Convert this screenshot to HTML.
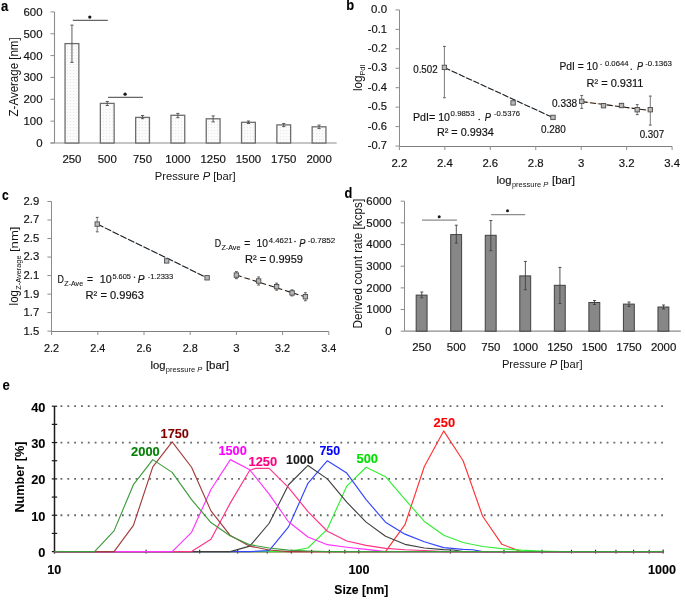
<!DOCTYPE html>
<html><head><meta charset="utf-8"><style>
html,body{margin:0;padding:0;background:#fff;}
svg{display:block;font-family:"Liberation Sans", sans-serif;filter:blur(0.3px);}
</style></head><body>
<svg width="685" height="605" viewBox="0 0 685 605">
<defs><pattern id="dots" width="3" height="3" patternUnits="userSpaceOnUse"><rect width="3" height="3" fill="#fbfbfb"/><rect x="1" y="1" width="1" height="1" fill="#e8e8e8"/></pattern></defs>
<rect width="685" height="605" fill="#fff"/>
<text x="0.90" y="10.50" font-size="14.6" font-weight="bold" textLength="7.30" lengthAdjust="spacingAndGlyphs" fill="#000" stroke="#000" stroke-width="0.108">a</text>
<text x="346.20" y="10.10" font-size="14.6" font-weight="bold" textLength="7.90" lengthAdjust="spacingAndGlyphs" fill="#000" stroke="#000" stroke-width="0.108">b</text>
<text x="2.00" y="199.90" font-size="14.6" font-weight="bold" textLength="6.70" lengthAdjust="spacingAndGlyphs" fill="#000" stroke="#000" stroke-width="0.108">c</text>
<text x="344.60" y="198.40" font-size="14.6" font-weight="bold" textLength="7.80" lengthAdjust="spacingAndGlyphs" fill="#000" stroke="#000" stroke-width="0.108">d</text>
<text x="2.40" y="389.90" font-size="14.6" font-weight="bold" textLength="7.30" lengthAdjust="spacingAndGlyphs" fill="#000" stroke="#000" stroke-width="0.108">e</text>
<line x1="54.50" y1="11.90" x2="54.50" y2="143.00" stroke="#8c8c8c" stroke-width="1.1"/>
<line x1="50.50" y1="143.00" x2="54.30" y2="143.00" stroke="#8c8c8c" stroke-width="1"/>
<text x="42.50" y="146.90" font-size="11.4" text-anchor="end" fill="#141414" stroke="#141414" stroke-width="0.180">0</text>
<line x1="50.50" y1="121.15" x2="54.30" y2="121.15" stroke="#8c8c8c" stroke-width="1"/>
<text x="42.50" y="125.05" font-size="11.4" text-anchor="end" fill="#141414" stroke="#141414" stroke-width="0.180">100</text>
<line x1="50.50" y1="99.30" x2="54.30" y2="99.30" stroke="#8c8c8c" stroke-width="1"/>
<text x="42.50" y="103.20" font-size="11.4" text-anchor="end" fill="#141414" stroke="#141414" stroke-width="0.180">200</text>
<line x1="50.50" y1="77.45" x2="54.30" y2="77.45" stroke="#8c8c8c" stroke-width="1"/>
<text x="42.50" y="81.35" font-size="11.4" text-anchor="end" fill="#141414" stroke="#141414" stroke-width="0.180">300</text>
<line x1="50.50" y1="55.60" x2="54.30" y2="55.60" stroke="#8c8c8c" stroke-width="1"/>
<text x="42.50" y="59.50" font-size="11.4" text-anchor="end" fill="#141414" stroke="#141414" stroke-width="0.180">400</text>
<line x1="50.50" y1="33.75" x2="54.30" y2="33.75" stroke="#8c8c8c" stroke-width="1"/>
<text x="42.50" y="37.65" font-size="11.4" text-anchor="end" fill="#141414" stroke="#141414" stroke-width="0.180">500</text>
<line x1="50.50" y1="11.90" x2="54.30" y2="11.90" stroke="#8c8c8c" stroke-width="1"/>
<text x="42.50" y="15.80" font-size="11.4" text-anchor="end" fill="#141414" stroke="#141414" stroke-width="0.180">600</text>
<line x1="50.50" y1="143.00" x2="336.70" y2="143.00" stroke="#8c8c8c" stroke-width="1.2"/>
<rect x="65.05" y="43.60" width="13.8" height="99.40" fill="url(#dots)" stroke="#6e6e6e" stroke-width="1.3"/>
<line x1="71.95" y1="25.10" x2="71.95" y2="62.40" stroke="#4d4d4d" stroke-width="0.9"/>
<line x1="70.35" y1="25.10" x2="73.55" y2="25.10" stroke="#4d4d4d" stroke-width="0.9"/>
<line x1="70.35" y1="62.40" x2="73.55" y2="62.40" stroke="#4d4d4d" stroke-width="0.9"/>
<text x="71.95" y="163.10" font-size="11.4" text-anchor="middle" fill="#141414" stroke="#141414" stroke-width="0.180">250</text>
<rect x="100.35" y="103.40" width="13.8" height="39.60" fill="url(#dots)" stroke="#6e6e6e" stroke-width="1.3"/>
<line x1="107.25" y1="101.50" x2="107.25" y2="105.50" stroke="#4d4d4d" stroke-width="0.9"/>
<line x1="105.65" y1="101.50" x2="108.85" y2="101.50" stroke="#4d4d4d" stroke-width="0.9"/>
<line x1="105.65" y1="105.50" x2="108.85" y2="105.50" stroke="#4d4d4d" stroke-width="0.9"/>
<text x="107.25" y="163.10" font-size="11.4" text-anchor="middle" fill="#141414" stroke="#141414" stroke-width="0.180">500</text>
<rect x="135.65" y="117.40" width="13.8" height="25.60" fill="url(#dots)" stroke="#6e6e6e" stroke-width="1.3"/>
<line x1="142.55" y1="115.50" x2="142.55" y2="118.70" stroke="#4d4d4d" stroke-width="0.9"/>
<line x1="140.95" y1="115.50" x2="144.15" y2="115.50" stroke="#4d4d4d" stroke-width="0.9"/>
<line x1="140.95" y1="118.70" x2="144.15" y2="118.70" stroke="#4d4d4d" stroke-width="0.9"/>
<text x="142.55" y="163.10" font-size="11.4" text-anchor="middle" fill="#141414" stroke="#141414" stroke-width="0.180">750</text>
<rect x="170.95" y="115.30" width="13.8" height="27.70" fill="url(#dots)" stroke="#6e6e6e" stroke-width="1.3"/>
<line x1="177.85" y1="113.40" x2="177.85" y2="117.70" stroke="#4d4d4d" stroke-width="0.9"/>
<line x1="176.25" y1="113.40" x2="179.45" y2="113.40" stroke="#4d4d4d" stroke-width="0.9"/>
<line x1="176.25" y1="117.70" x2="179.45" y2="117.70" stroke="#4d4d4d" stroke-width="0.9"/>
<text x="177.85" y="163.10" font-size="11.4" text-anchor="middle" fill="#141414" stroke="#141414" stroke-width="0.180">1000</text>
<rect x="206.25" y="118.80" width="13.8" height="24.20" fill="url(#dots)" stroke="#6e6e6e" stroke-width="1.3"/>
<line x1="213.15" y1="115.90" x2="213.15" y2="121.90" stroke="#4d4d4d" stroke-width="0.9"/>
<line x1="211.55" y1="115.90" x2="214.75" y2="115.90" stroke="#4d4d4d" stroke-width="0.9"/>
<line x1="211.55" y1="121.90" x2="214.75" y2="121.90" stroke="#4d4d4d" stroke-width="0.9"/>
<text x="213.15" y="163.10" font-size="11.4" text-anchor="middle" fill="#141414" stroke="#141414" stroke-width="0.180">1250</text>
<rect x="241.55" y="122.30" width="13.8" height="20.70" fill="url(#dots)" stroke="#6e6e6e" stroke-width="1.3"/>
<line x1="248.45" y1="121.00" x2="248.45" y2="123.50" stroke="#4d4d4d" stroke-width="0.9"/>
<line x1="246.85" y1="121.00" x2="250.05" y2="121.00" stroke="#4d4d4d" stroke-width="0.9"/>
<line x1="246.85" y1="123.50" x2="250.05" y2="123.50" stroke="#4d4d4d" stroke-width="0.9"/>
<text x="248.45" y="163.10" font-size="11.4" text-anchor="middle" fill="#141414" stroke="#141414" stroke-width="0.180">1500</text>
<rect x="276.85" y="124.90" width="13.8" height="18.10" fill="url(#dots)" stroke="#6e6e6e" stroke-width="1.3"/>
<line x1="283.75" y1="123.50" x2="283.75" y2="126.60" stroke="#4d4d4d" stroke-width="0.9"/>
<line x1="282.15" y1="123.50" x2="285.35" y2="123.50" stroke="#4d4d4d" stroke-width="0.9"/>
<line x1="282.15" y1="126.60" x2="285.35" y2="126.60" stroke="#4d4d4d" stroke-width="0.9"/>
<text x="283.75" y="163.10" font-size="11.4" text-anchor="middle" fill="#141414" stroke="#141414" stroke-width="0.180">1750</text>
<rect x="312.15" y="126.80" width="13.8" height="16.20" fill="url(#dots)" stroke="#6e6e6e" stroke-width="1.3"/>
<line x1="319.05" y1="125.10" x2="319.05" y2="128.60" stroke="#4d4d4d" stroke-width="0.9"/>
<line x1="317.45" y1="125.10" x2="320.65" y2="125.10" stroke="#4d4d4d" stroke-width="0.9"/>
<line x1="317.45" y1="128.60" x2="320.65" y2="128.60" stroke="#4d4d4d" stroke-width="0.9"/>
<text x="319.05" y="163.10" font-size="11.4" text-anchor="middle" fill="#141414" stroke="#141414" stroke-width="0.180">2000</text>
<line x1="72.80" y1="20.40" x2="107.80" y2="20.40" stroke="#666" stroke-width="1.1"/>
<circle cx="89.8" cy="17.1" r="1.65" fill="#1a1a1a"/>
<line x1="108.10" y1="97.40" x2="142.90" y2="97.40" stroke="#666" stroke-width="1.1"/>
<circle cx="125.1" cy="94.2" r="1.65" fill="#1a1a1a"/>
<text x="154.70" y="180.2" font-size="11.4" fill="#141414" textLength="81" lengthAdjust="spacingAndGlyphs">Pressure <tspan font-style="italic">P</tspan> [bar]</text>
<text transform="translate(18.1,76.9) rotate(-90)" x="0" y="0" font-size="12.2" fill="#141414" text-anchor="middle" textLength="79" lengthAdjust="spacingAndGlyphs">Z-Average [nm]</text>
<line x1="399.50" y1="9.90" x2="399.50" y2="146.50" stroke="#8c8c8c" stroke-width="1"/>
<line x1="395.50" y1="9.90" x2="399.40" y2="9.90" stroke="#8c8c8c" stroke-width="1"/>
<text x="387.00" y="13.10" font-size="11.4" text-anchor="end" textLength="15.90" lengthAdjust="spacingAndGlyphs" fill="#141414" stroke="#141414" stroke-width="0.180">0.0</text>
<line x1="395.50" y1="29.35" x2="399.40" y2="29.35" stroke="#8c8c8c" stroke-width="1"/>
<text x="387.00" y="32.55" font-size="11.4" text-anchor="end" textLength="19.30" lengthAdjust="spacingAndGlyphs" fill="#141414" stroke="#141414" stroke-width="0.180">-0.1</text>
<line x1="395.50" y1="48.80" x2="399.40" y2="48.80" stroke="#8c8c8c" stroke-width="1"/>
<text x="387.00" y="52.00" font-size="11.4" text-anchor="end" textLength="19.30" lengthAdjust="spacingAndGlyphs" fill="#141414" stroke="#141414" stroke-width="0.180">-0.2</text>
<line x1="395.50" y1="68.25" x2="399.40" y2="68.25" stroke="#8c8c8c" stroke-width="1"/>
<text x="387.00" y="71.45" font-size="11.4" text-anchor="end" textLength="19.30" lengthAdjust="spacingAndGlyphs" fill="#141414" stroke="#141414" stroke-width="0.180">-0.3</text>
<line x1="395.50" y1="87.70" x2="399.40" y2="87.70" stroke="#8c8c8c" stroke-width="1"/>
<text x="387.00" y="90.90" font-size="11.4" text-anchor="end" textLength="19.30" lengthAdjust="spacingAndGlyphs" fill="#141414" stroke="#141414" stroke-width="0.180">-0.4</text>
<line x1="395.50" y1="107.15" x2="399.40" y2="107.15" stroke="#8c8c8c" stroke-width="1"/>
<text x="387.00" y="110.35" font-size="11.4" text-anchor="end" textLength="19.30" lengthAdjust="spacingAndGlyphs" fill="#141414" stroke="#141414" stroke-width="0.180">-0.5</text>
<line x1="395.50" y1="126.60" x2="399.40" y2="126.60" stroke="#8c8c8c" stroke-width="1"/>
<text x="387.00" y="129.80" font-size="11.4" text-anchor="end" textLength="19.30" lengthAdjust="spacingAndGlyphs" fill="#141414" stroke="#141414" stroke-width="0.180">-0.6</text>
<line x1="395.50" y1="146.05" x2="399.40" y2="146.05" stroke="#8c8c8c" stroke-width="1"/>
<text x="387.00" y="149.25" font-size="11.4" text-anchor="end" textLength="19.30" lengthAdjust="spacingAndGlyphs" fill="#141414" stroke="#141414" stroke-width="0.180">-0.7</text>
<line x1="399.50" y1="146.50" x2="672.10" y2="146.50" stroke="#7f7f7f" stroke-width="1"/>
<line x1="399.40" y1="146.50" x2="399.40" y2="150.00" stroke="#8c8c8c" stroke-width="1"/>
<text x="399.40" y="166.80" font-size="11.4" text-anchor="middle" textLength="15.80" lengthAdjust="spacingAndGlyphs" fill="#141414" stroke="#141414" stroke-width="0.180">2.2</text>
<line x1="444.85" y1="146.50" x2="444.85" y2="150.00" stroke="#8c8c8c" stroke-width="1"/>
<text x="444.85" y="166.80" font-size="11.4" text-anchor="middle" textLength="15.80" lengthAdjust="spacingAndGlyphs" fill="#141414" stroke="#141414" stroke-width="0.180">2.4</text>
<line x1="490.30" y1="146.50" x2="490.30" y2="150.00" stroke="#8c8c8c" stroke-width="1"/>
<text x="490.30" y="166.80" font-size="11.4" text-anchor="middle" textLength="15.80" lengthAdjust="spacingAndGlyphs" fill="#141414" stroke="#141414" stroke-width="0.180">2.6</text>
<line x1="535.75" y1="146.50" x2="535.75" y2="150.00" stroke="#8c8c8c" stroke-width="1"/>
<text x="535.75" y="166.80" font-size="11.4" text-anchor="middle" textLength="15.80" lengthAdjust="spacingAndGlyphs" fill="#141414" stroke="#141414" stroke-width="0.180">2.8</text>
<line x1="581.20" y1="146.50" x2="581.20" y2="150.00" stroke="#8c8c8c" stroke-width="1"/>
<text x="581.20" y="166.80" font-size="11.4" text-anchor="middle" fill="#141414" stroke="#141414" stroke-width="0.180">3</text>
<line x1="626.65" y1="146.50" x2="626.65" y2="150.00" stroke="#8c8c8c" stroke-width="1"/>
<text x="626.65" y="166.80" font-size="11.4" text-anchor="middle" textLength="15.80" lengthAdjust="spacingAndGlyphs" fill="#141414" stroke="#141414" stroke-width="0.180">3.2</text>
<line x1="672.10" y1="146.50" x2="672.10" y2="150.00" stroke="#8c8c8c" stroke-width="1"/>
<text x="672.10" y="166.80" font-size="11.4" text-anchor="middle" textLength="15.80" lengthAdjust="spacingAndGlyphs" fill="#141414" stroke="#141414" stroke-width="0.180">3.4</text>
<line x1="444.40" y1="67.60" x2="553.00" y2="117.60" stroke="#bdd7ee" stroke-width="0.8"/>
<line x1="444.40" y1="67.60" x2="553.00" y2="117.60" stroke="#1f1f1f" stroke-width="1.1" stroke-dasharray="6.2,1.8"/>
<line x1="581.70" y1="101.60" x2="650.30" y2="110.60" stroke="#f8cbad" stroke-width="0.8"/>
<line x1="581.70" y1="101.60" x2="650.30" y2="110.60" stroke="#1f1f1f" stroke-width="1.1" stroke-dasharray="6,2.4"/>
<line x1="444.40" y1="46.40" x2="444.40" y2="97.70" stroke="#7a7a7a" stroke-width="1"/>
<line x1="443.00" y1="46.40" x2="445.80" y2="46.40" stroke="#666" stroke-width="1.1"/>
<line x1="443.00" y1="97.70" x2="445.80" y2="97.70" stroke="#666" stroke-width="1.1"/>
<rect x="442.20" y="65.20" width="4.4" height="4.4" fill="#b8b8b8" stroke="#4d4d4d" stroke-width="0.9"/>
<line x1="513.10" y1="101.40" x2="513.10" y2="104.40" stroke="#7a7a7a" stroke-width="1"/>
<line x1="511.70" y1="101.40" x2="514.50" y2="101.40" stroke="#666" stroke-width="1.1"/>
<line x1="511.70" y1="104.40" x2="514.50" y2="104.40" stroke="#666" stroke-width="1.1"/>
<rect x="510.90" y="100.70" width="4.4" height="4.4" fill="#b8b8b8" stroke="#4d4d4d" stroke-width="0.9"/>
<line x1="553.00" y1="116.40" x2="553.00" y2="118.40" stroke="#7a7a7a" stroke-width="1"/>
<line x1="551.60" y1="116.40" x2="554.40" y2="116.40" stroke="#666" stroke-width="1.1"/>
<line x1="551.60" y1="118.40" x2="554.40" y2="118.40" stroke="#666" stroke-width="1.1"/>
<rect x="550.80" y="115.20" width="4.4" height="4.4" fill="#b8b8b8" stroke="#4d4d4d" stroke-width="0.9"/>
<line x1="581.70" y1="95.50" x2="581.70" y2="108.40" stroke="#7a7a7a" stroke-width="1"/>
<line x1="580.30" y1="95.50" x2="583.10" y2="95.50" stroke="#666" stroke-width="1.1"/>
<line x1="580.30" y1="108.40" x2="583.10" y2="108.40" stroke="#666" stroke-width="1.1"/>
<rect x="579.50" y="99.20" width="4.4" height="4.4" fill="#b8b8b8" stroke="#4d4d4d" stroke-width="0.9"/>
<line x1="603.50" y1="104.00" x2="603.50" y2="107.40" stroke="#7a7a7a" stroke-width="1"/>
<line x1="602.10" y1="104.00" x2="604.90" y2="104.00" stroke="#666" stroke-width="1.1"/>
<line x1="602.10" y1="107.40" x2="604.90" y2="107.40" stroke="#666" stroke-width="1.1"/>
<rect x="601.30" y="103.50" width="4.4" height="4.4" fill="#b8b8b8" stroke="#4d4d4d" stroke-width="0.9"/>
<line x1="621.50" y1="103.50" x2="621.50" y2="107.50" stroke="#7a7a7a" stroke-width="1"/>
<line x1="620.10" y1="103.50" x2="622.90" y2="103.50" stroke="#666" stroke-width="1.1"/>
<line x1="620.10" y1="107.50" x2="622.90" y2="107.50" stroke="#666" stroke-width="1.1"/>
<rect x="619.30" y="103.30" width="4.4" height="4.4" fill="#b8b8b8" stroke="#4d4d4d" stroke-width="0.9"/>
<line x1="637.20" y1="104.60" x2="637.20" y2="114.60" stroke="#7a7a7a" stroke-width="1"/>
<line x1="635.80" y1="104.60" x2="638.60" y2="104.60" stroke="#666" stroke-width="1.1"/>
<line x1="635.80" y1="114.60" x2="638.60" y2="114.60" stroke="#666" stroke-width="1.1"/>
<rect x="635.00" y="107.50" width="4.4" height="4.4" fill="#b8b8b8" stroke="#4d4d4d" stroke-width="0.9"/>
<line x1="650.30" y1="96.10" x2="650.30" y2="125.10" stroke="#7a7a7a" stroke-width="1"/>
<line x1="648.90" y1="96.10" x2="651.70" y2="96.10" stroke="#666" stroke-width="1.1"/>
<line x1="648.90" y1="125.10" x2="651.70" y2="125.10" stroke="#666" stroke-width="1.1"/>
<rect x="648.10" y="107.50" width="4.4" height="4.4" fill="#b8b8b8" stroke="#4d4d4d" stroke-width="0.9"/>
<text x="413.20" y="72.70" font-size="10.2" textLength="24.50" lengthAdjust="spacingAndGlyphs" fill="#141414" stroke="#141414" stroke-width="0.180">0.502</text>
<text x="552.00" y="106.60" font-size="10.2" textLength="25.20" lengthAdjust="spacingAndGlyphs" fill="#141414" stroke="#141414" stroke-width="0.180">0.338</text>
<text x="540.90" y="133.20" font-size="10.2" textLength="24.80" lengthAdjust="spacingAndGlyphs" fill="#141414" stroke="#141414" stroke-width="0.180">0.280</text>
<text x="639.70" y="138.00" font-size="10.2" textLength="24.40" lengthAdjust="spacingAndGlyphs" fill="#141414" stroke="#141414" stroke-width="0.180">0.307</text>
<text x="413.00" y="120.60" font-size="11.4" textLength="37.00" lengthAdjust="spacingAndGlyphs" fill="#141414" stroke="#141414" stroke-width="0.180">PdI= 10</text>
<text x="450.60" y="116.40" font-size="7.3" textLength="24.00" lengthAdjust="spacingAndGlyphs" fill="#141414" stroke="#141414" stroke-width="0.108">0.9853</text>
<circle cx="479.20" cy="119.60" r="0.75" fill="#141414"/>
<text x="484.70" y="120.60" font-size="11.4" textLength="6.20" lengthAdjust="spacingAndGlyphs" font-style="italic" fill="#141414" stroke="#141414" stroke-width="0.180">P</text>
<text x="493.90" y="116.40" font-size="7.3" textLength="26.10" lengthAdjust="spacingAndGlyphs" fill="#141414" stroke="#141414" stroke-width="0.108">-0.5376</text>
<text x="436.90" y="135.70" font-size="11.4" textLength="57.00" lengthAdjust="spacingAndGlyphs" fill="#141414" stroke="#141414" stroke-width="0.180">R² = 0.9934</text>
<text x="559.40" y="70.20" font-size="11.4" textLength="38.50" lengthAdjust="spacingAndGlyphs" fill="#141414" stroke="#141414" stroke-width="0.180">PdI = 10</text>
<text x="599.70" y="66.40" font-size="7.3" textLength="2.60" lengthAdjust="spacingAndGlyphs" fill="#141414" stroke="#141414" stroke-width="0.108">-</text>
<text x="604.90" y="66.40" font-size="7.3" textLength="23.70" lengthAdjust="spacingAndGlyphs" fill="#141414" stroke="#141414" stroke-width="0.108">0.0644</text>
<circle cx="631.20" cy="69.20" r="0.75" fill="#141414"/>
<text x="637.00" y="70.20" font-size="11.4" textLength="6.00" lengthAdjust="spacingAndGlyphs" font-style="italic" fill="#141414" stroke="#141414" stroke-width="0.180">P</text>
<text x="645.20" y="66.40" font-size="7.3" textLength="26.80" lengthAdjust="spacingAndGlyphs" fill="#141414" stroke="#141414" stroke-width="0.108">-0.1363</text>
<text x="586.50" y="86.50" font-size="11.4" textLength="57.00" lengthAdjust="spacingAndGlyphs" fill="#141414" stroke="#141414" stroke-width="0.180">R² = 0.9311</text>
<text x="496.60" y="183.50" font-size="11.4" textLength="15.00" lengthAdjust="spacingAndGlyphs" fill="#141414" stroke="#141414" stroke-width="0.180">log</text>
<text x="511.90" y="186.70" font-size="7.6" fill="#141414" textLength="36.5" lengthAdjust="spacingAndGlyphs">pressure <tspan font-style="italic">P</tspan></text>
<text x="552.00" y="183.50" font-size="11.4" textLength="23.00" lengthAdjust="spacingAndGlyphs" fill="#141414" stroke="#141414" stroke-width="0.180">[bar]</text>
<g transform="translate(361.9,91.0) rotate(-90)"><text x="0" y="0" font-size="12" fill="#141414" textLength="15.4" lengthAdjust="spacingAndGlyphs">log</text><text x="15.4" y="2.9" font-size="7.8" fill="#141414" textLength="11.2" lengthAdjust="spacingAndGlyphs">PdI</text></g>
<line x1="51.50" y1="201.50" x2="51.50" y2="331.50" stroke="#8c8c8c" stroke-width="1"/>
<line x1="47.40" y1="201.50" x2="51.60" y2="201.50" stroke="#8c8c8c" stroke-width="1"/>
<text x="39.20" y="204.90" font-size="11.4" text-anchor="end" textLength="15.70" lengthAdjust="spacingAndGlyphs" fill="#141414" stroke="#141414" stroke-width="0.180">2.9</text>
<line x1="47.40" y1="220.02" x2="51.60" y2="220.02" stroke="#8c8c8c" stroke-width="1"/>
<text x="39.20" y="223.42" font-size="11.4" text-anchor="end" textLength="15.70" lengthAdjust="spacingAndGlyphs" fill="#141414" stroke="#141414" stroke-width="0.180">2.7</text>
<line x1="47.40" y1="238.54" x2="51.60" y2="238.54" stroke="#8c8c8c" stroke-width="1"/>
<text x="39.20" y="241.94" font-size="11.4" text-anchor="end" textLength="15.70" lengthAdjust="spacingAndGlyphs" fill="#141414" stroke="#141414" stroke-width="0.180">2.5</text>
<line x1="47.40" y1="257.06" x2="51.60" y2="257.06" stroke="#8c8c8c" stroke-width="1"/>
<text x="39.20" y="260.46" font-size="11.4" text-anchor="end" textLength="15.70" lengthAdjust="spacingAndGlyphs" fill="#141414" stroke="#141414" stroke-width="0.180">2.3</text>
<line x1="47.40" y1="275.58" x2="51.60" y2="275.58" stroke="#8c8c8c" stroke-width="1"/>
<text x="39.20" y="278.98" font-size="11.4" text-anchor="end" textLength="15.70" lengthAdjust="spacingAndGlyphs" fill="#141414" stroke="#141414" stroke-width="0.180">2.1</text>
<line x1="47.40" y1="294.10" x2="51.60" y2="294.10" stroke="#8c8c8c" stroke-width="1"/>
<text x="39.20" y="297.50" font-size="11.4" text-anchor="end" textLength="15.70" lengthAdjust="spacingAndGlyphs" fill="#141414" stroke="#141414" stroke-width="0.180">1.9</text>
<line x1="47.40" y1="312.62" x2="51.60" y2="312.62" stroke="#8c8c8c" stroke-width="1"/>
<text x="39.20" y="316.02" font-size="11.4" text-anchor="end" textLength="15.70" lengthAdjust="spacingAndGlyphs" fill="#141414" stroke="#141414" stroke-width="0.180">1.7</text>
<line x1="47.40" y1="331.14" x2="51.60" y2="331.14" stroke="#8c8c8c" stroke-width="1"/>
<text x="39.20" y="334.54" font-size="11.4" text-anchor="end" textLength="15.70" lengthAdjust="spacingAndGlyphs" fill="#141414" stroke="#141414" stroke-width="0.180">1.5</text>
<line x1="51.50" y1="331.50" x2="328.80" y2="331.50" stroke="#7f7f7f" stroke-width="1"/>
<line x1="51.60" y1="331.50" x2="51.60" y2="335.00" stroke="#8c8c8c" stroke-width="1"/>
<text x="51.60" y="351.80" font-size="11.4" text-anchor="middle" textLength="15.10" lengthAdjust="spacingAndGlyphs" fill="#141414" stroke="#141414" stroke-width="0.180">2.2</text>
<line x1="97.80" y1="331.50" x2="97.80" y2="335.00" stroke="#8c8c8c" stroke-width="1"/>
<text x="97.80" y="351.80" font-size="11.4" text-anchor="middle" textLength="15.10" lengthAdjust="spacingAndGlyphs" fill="#141414" stroke="#141414" stroke-width="0.180">2.4</text>
<line x1="144.00" y1="331.50" x2="144.00" y2="335.00" stroke="#8c8c8c" stroke-width="1"/>
<text x="144.00" y="351.80" font-size="11.4" text-anchor="middle" textLength="15.10" lengthAdjust="spacingAndGlyphs" fill="#141414" stroke="#141414" stroke-width="0.180">2.6</text>
<line x1="190.20" y1="331.50" x2="190.20" y2="335.00" stroke="#8c8c8c" stroke-width="1"/>
<text x="190.20" y="351.80" font-size="11.4" text-anchor="middle" textLength="15.10" lengthAdjust="spacingAndGlyphs" fill="#141414" stroke="#141414" stroke-width="0.180">2.8</text>
<line x1="236.40" y1="331.50" x2="236.40" y2="335.00" stroke="#8c8c8c" stroke-width="1"/>
<text x="236.40" y="351.80" font-size="11.4" text-anchor="middle" fill="#141414" stroke="#141414" stroke-width="0.180">3</text>
<line x1="282.60" y1="331.50" x2="282.60" y2="335.00" stroke="#8c8c8c" stroke-width="1"/>
<text x="282.60" y="351.80" font-size="11.4" text-anchor="middle" textLength="15.10" lengthAdjust="spacingAndGlyphs" fill="#141414" stroke="#141414" stroke-width="0.180">3.2</text>
<line x1="328.80" y1="331.50" x2="328.80" y2="335.00" stroke="#8c8c8c" stroke-width="1"/>
<text x="328.80" y="351.80" font-size="11.4" text-anchor="middle" textLength="15.10" lengthAdjust="spacingAndGlyphs" fill="#141414" stroke="#141414" stroke-width="0.180">3.4</text>
<line x1="97.20" y1="224.10" x2="207.10" y2="277.80" stroke="#bdd7ee" stroke-width="0.8"/>
<line x1="97.20" y1="224.10" x2="207.10" y2="277.80" stroke="#1f1f1f" stroke-width="1.1" stroke-dasharray="6.8,1.8"/>
<line x1="236.40" y1="275.10" x2="305.40" y2="296.90" stroke="#fbe5d6" stroke-width="0.8"/>
<line x1="236.40" y1="275.10" x2="305.40" y2="296.90" stroke="#1f1f1f" stroke-width="1.1" stroke-dasharray="5.5,3"/>
<line x1="97.20" y1="217.40" x2="97.20" y2="231.80" stroke="#7a7a7a" stroke-width="1"/>
<line x1="95.80" y1="217.40" x2="98.60" y2="217.40" stroke="#666" stroke-width="1.1"/>
<line x1="95.80" y1="231.80" x2="98.60" y2="231.80" stroke="#666" stroke-width="1.1"/>
<rect x="95.00" y="221.90" width="4.4" height="4.4" fill="#b8b8b8" stroke="#4d4d4d" stroke-width="0.9"/>
<line x1="166.70" y1="259.60" x2="166.70" y2="262.20" stroke="#7a7a7a" stroke-width="1"/>
<line x1="165.30" y1="259.60" x2="168.10" y2="259.60" stroke="#666" stroke-width="1.1"/>
<line x1="165.30" y1="262.20" x2="168.10" y2="262.20" stroke="#666" stroke-width="1.1"/>
<rect x="164.50" y="258.70" width="4.4" height="4.4" fill="#b8b8b8" stroke="#4d4d4d" stroke-width="0.9"/>
<line x1="207.10" y1="277.20" x2="207.10" y2="278.40" stroke="#7a7a7a" stroke-width="1"/>
<line x1="205.70" y1="277.20" x2="208.50" y2="277.20" stroke="#666" stroke-width="1.1"/>
<line x1="205.70" y1="278.40" x2="208.50" y2="278.40" stroke="#666" stroke-width="1.1"/>
<rect x="204.90" y="275.60" width="4.4" height="4.4" fill="#b8b8b8" stroke="#4d4d4d" stroke-width="0.9"/>
<line x1="236.40" y1="271.60" x2="236.40" y2="278.60" stroke="#7a7a7a" stroke-width="1"/>
<line x1="235.00" y1="271.60" x2="237.80" y2="271.60" stroke="#666" stroke-width="1.1"/>
<line x1="235.00" y1="278.60" x2="237.80" y2="278.60" stroke="#666" stroke-width="1.1"/>
<rect x="234.20" y="272.90" width="4.4" height="4.4" fill="#b8b8b8" stroke="#4d4d4d" stroke-width="0.9"/>
<line x1="258.60" y1="277.00" x2="258.60" y2="285.00" stroke="#7a7a7a" stroke-width="1"/>
<line x1="257.20" y1="277.00" x2="260.00" y2="277.00" stroke="#666" stroke-width="1.1"/>
<line x1="257.20" y1="285.00" x2="260.00" y2="285.00" stroke="#666" stroke-width="1.1"/>
<rect x="256.40" y="278.80" width="4.4" height="4.4" fill="#b8b8b8" stroke="#4d4d4d" stroke-width="0.9"/>
<line x1="276.60" y1="283.20" x2="276.60" y2="290.20" stroke="#7a7a7a" stroke-width="1"/>
<line x1="275.20" y1="283.20" x2="278.00" y2="283.20" stroke="#666" stroke-width="1.1"/>
<line x1="275.20" y1="290.20" x2="278.00" y2="290.20" stroke="#666" stroke-width="1.1"/>
<rect x="274.40" y="284.50" width="4.4" height="4.4" fill="#b8b8b8" stroke="#4d4d4d" stroke-width="0.9"/>
<line x1="292.10" y1="289.90" x2="292.10" y2="295.90" stroke="#7a7a7a" stroke-width="1"/>
<line x1="290.70" y1="289.90" x2="293.50" y2="289.90" stroke="#666" stroke-width="1.1"/>
<line x1="290.70" y1="295.90" x2="293.50" y2="295.90" stroke="#666" stroke-width="1.1"/>
<rect x="289.90" y="290.70" width="4.4" height="4.4" fill="#b8b8b8" stroke="#4d4d4d" stroke-width="0.9"/>
<line x1="305.40" y1="292.70" x2="305.40" y2="300.70" stroke="#7a7a7a" stroke-width="1"/>
<line x1="304.00" y1="292.70" x2="306.80" y2="292.70" stroke="#666" stroke-width="1.1"/>
<line x1="304.00" y1="300.70" x2="306.80" y2="300.70" stroke="#666" stroke-width="1.1"/>
<rect x="303.20" y="294.50" width="4.4" height="4.4" fill="#b8b8b8" stroke="#4d4d4d" stroke-width="0.9"/>
<text x="57.40" y="282.80" font-size="11.4" textLength="6.40" lengthAdjust="spacingAndGlyphs" fill="#141414" stroke="#141414" stroke-width="0.180">D</text>
<text x="64.30" y="285.50" font-size="7.6" textLength="18.80" lengthAdjust="spacingAndGlyphs" fill="#141414" stroke="#141414" stroke-width="0.108">Z-Ave</text>
<text x="87.00" y="282.80" font-size="11.4" textLength="6.00" lengthAdjust="spacingAndGlyphs" fill="#141414" stroke="#141414" stroke-width="0.180">=</text>
<text x="99.70" y="282.80" font-size="11.4" textLength="12.00" lengthAdjust="spacingAndGlyphs" fill="#141414" stroke="#141414" stroke-width="0.180">10</text>
<text x="112.40" y="278.60" font-size="7.3" textLength="18.60" lengthAdjust="spacingAndGlyphs" fill="#141414" stroke="#141414" stroke-width="0.108">5.605</text>
<circle cx="134.50" cy="277.30" r="0.75" fill="#141414"/>
<text x="137.80" y="282.80" font-size="11.4" textLength="6.80" lengthAdjust="spacingAndGlyphs" font-style="italic" fill="#141414" stroke="#141414" stroke-width="0.180">P</text>
<text x="147.70" y="278.60" font-size="7.3" textLength="25.50" lengthAdjust="spacingAndGlyphs" fill="#141414" stroke="#141414" stroke-width="0.108">-1.2333</text>
<text x="85.60" y="298.80" font-size="11.4" textLength="58.30" lengthAdjust="spacingAndGlyphs" fill="#141414" stroke="#141414" stroke-width="0.180">R² = 0.9963</text>
<text x="214.70" y="247.20" font-size="11.4" textLength="6.40" lengthAdjust="spacingAndGlyphs" fill="#141414" stroke="#141414" stroke-width="0.180">D</text>
<text x="221.40" y="250.00" font-size="7.6" textLength="19.00" lengthAdjust="spacingAndGlyphs" fill="#141414" stroke="#141414" stroke-width="0.108">Z-Ave</text>
<text x="244.20" y="247.20" font-size="11.4" textLength="6.00" lengthAdjust="spacingAndGlyphs" fill="#141414" stroke="#141414" stroke-width="0.180">=</text>
<text x="256.50" y="247.20" font-size="11.4" textLength="11.40" lengthAdjust="spacingAndGlyphs" fill="#141414" stroke="#141414" stroke-width="0.180">10</text>
<text x="268.80" y="242.80" font-size="7.3" textLength="23.80" lengthAdjust="spacingAndGlyphs" fill="#141414" stroke="#141414" stroke-width="0.108">4.4621</text>
<circle cx="295.00" cy="241.50" r="0.75" fill="#141414"/>
<text x="299.20" y="247.20" font-size="11.4" textLength="6.20" lengthAdjust="spacingAndGlyphs" font-style="italic" fill="#141414" stroke="#141414" stroke-width="0.180">P</text>
<text x="307.70" y="242.80" font-size="7.3" textLength="27.60" lengthAdjust="spacingAndGlyphs" fill="#141414" stroke="#141414" stroke-width="0.108">-0.7852</text>
<text x="245.10" y="262.70" font-size="11.4" textLength="57.90" lengthAdjust="spacingAndGlyphs" fill="#141414" stroke="#141414" stroke-width="0.180">R² = 0.9959</text>
<text x="150.50" y="368.60" font-size="11.4" textLength="15.00" lengthAdjust="spacingAndGlyphs" fill="#141414" stroke="#141414" stroke-width="0.180">log</text>
<text x="165.80" y="371.80" font-size="7.6" fill="#141414" textLength="36.5" lengthAdjust="spacingAndGlyphs">pressure <tspan font-style="italic">P</tspan></text>
<text x="205.90" y="368.60" font-size="11.4" textLength="23.00" lengthAdjust="spacingAndGlyphs" fill="#141414" stroke="#141414" stroke-width="0.180">[bar]</text>
<g transform="translate(17.7,305.4) rotate(-90)"><text x="0" y="0" font-size="12" fill="#141414" textLength="15.3" lengthAdjust="spacingAndGlyphs">log</text><text x="15.6" y="3.2" font-size="8" fill="#141414" textLength="34.4" lengthAdjust="spacingAndGlyphs">Z-Average</text><text x="53.4" y="0" font-size="11.8" fill="#141414" textLength="25.4" lengthAdjust="spacingAndGlyphs">[nm]</text></g>
<line x1="404.50" y1="201.20" x2="404.50" y2="331.20" stroke="#8c8c8c" stroke-width="1"/>
<line x1="400.70" y1="331.20" x2="404.50" y2="331.20" stroke="#8c8c8c" stroke-width="1"/>
<text x="391.70" y="335.10" font-size="11.4" text-anchor="end" fill="#141414" stroke="#141414" stroke-width="0.180">0</text>
<line x1="400.70" y1="309.53" x2="404.50" y2="309.53" stroke="#8c8c8c" stroke-width="1"/>
<text x="391.70" y="313.43" font-size="11.4" text-anchor="end" fill="#141414" stroke="#141414" stroke-width="0.180">1000</text>
<line x1="400.70" y1="287.86" x2="404.50" y2="287.86" stroke="#8c8c8c" stroke-width="1"/>
<text x="391.70" y="291.76" font-size="11.4" text-anchor="end" fill="#141414" stroke="#141414" stroke-width="0.180">2000</text>
<line x1="400.70" y1="266.19" x2="404.50" y2="266.19" stroke="#8c8c8c" stroke-width="1"/>
<text x="391.70" y="270.09" font-size="11.4" text-anchor="end" fill="#141414" stroke="#141414" stroke-width="0.180">3000</text>
<line x1="400.70" y1="244.52" x2="404.50" y2="244.52" stroke="#8c8c8c" stroke-width="1"/>
<text x="391.70" y="248.42" font-size="11.4" text-anchor="end" fill="#141414" stroke="#141414" stroke-width="0.180">4000</text>
<line x1="400.70" y1="222.85" x2="404.50" y2="222.85" stroke="#8c8c8c" stroke-width="1"/>
<text x="391.70" y="226.75" font-size="11.4" text-anchor="end" fill="#141414" stroke="#141414" stroke-width="0.180">5000</text>
<line x1="400.70" y1="201.18" x2="404.50" y2="201.18" stroke="#8c8c8c" stroke-width="1"/>
<text x="391.70" y="205.08" font-size="11.4" text-anchor="end" fill="#141414" stroke="#141414" stroke-width="0.180">6000</text>
<line x1="404.50" y1="331.20" x2="680.80" y2="331.20" stroke="#8c8c8c" stroke-width="1.2"/>
<rect x="416.17" y="295.10" width="10.9" height="36.10" fill="#878787" stroke="#404040" stroke-width="1"/>
<line x1="421.77" y1="292.00" x2="421.77" y2="297.80" stroke="#404040" stroke-width="0.9"/>
<line x1="420.27" y1="292.00" x2="423.27" y2="292.00" stroke="#404040" stroke-width="0.9"/>
<line x1="420.27" y1="297.80" x2="423.27" y2="297.80" stroke="#404040" stroke-width="0.9"/>
<text x="421.77" y="351.00" font-size="11.4" text-anchor="middle" fill="#141414" stroke="#141414" stroke-width="0.180">250</text>
<rect x="450.71" y="234.60" width="10.9" height="96.60" fill="#878787" stroke="#404040" stroke-width="1"/>
<line x1="456.31" y1="225.20" x2="456.31" y2="243.10" stroke="#404040" stroke-width="0.9"/>
<line x1="454.81" y1="225.20" x2="457.81" y2="225.20" stroke="#404040" stroke-width="0.9"/>
<line x1="454.81" y1="243.10" x2="457.81" y2="243.10" stroke="#404040" stroke-width="0.9"/>
<text x="456.31" y="351.00" font-size="11.4" text-anchor="middle" fill="#141414" stroke="#141414" stroke-width="0.180">500</text>
<rect x="485.25" y="235.30" width="10.9" height="95.90" fill="#878787" stroke="#404040" stroke-width="1"/>
<line x1="490.85" y1="220.50" x2="490.85" y2="250.70" stroke="#404040" stroke-width="0.9"/>
<line x1="489.35" y1="220.50" x2="492.35" y2="220.50" stroke="#404040" stroke-width="0.9"/>
<line x1="489.35" y1="250.70" x2="492.35" y2="250.70" stroke="#404040" stroke-width="0.9"/>
<text x="490.85" y="351.00" font-size="11.4" text-anchor="middle" fill="#141414" stroke="#141414" stroke-width="0.180">750</text>
<rect x="519.79" y="275.90" width="10.9" height="55.30" fill="#878787" stroke="#404040" stroke-width="1"/>
<line x1="525.39" y1="261.40" x2="525.39" y2="289.70" stroke="#404040" stroke-width="0.9"/>
<line x1="523.89" y1="261.40" x2="526.89" y2="261.40" stroke="#404040" stroke-width="0.9"/>
<line x1="523.89" y1="289.70" x2="526.89" y2="289.70" stroke="#404040" stroke-width="0.9"/>
<text x="525.39" y="351.00" font-size="11.4" text-anchor="middle" fill="#141414" stroke="#141414" stroke-width="0.180">1000</text>
<rect x="554.33" y="285.30" width="10.9" height="45.90" fill="#878787" stroke="#404040" stroke-width="1"/>
<line x1="559.93" y1="267.40" x2="559.93" y2="303.60" stroke="#404040" stroke-width="0.9"/>
<line x1="558.43" y1="267.40" x2="561.43" y2="267.40" stroke="#404040" stroke-width="0.9"/>
<line x1="558.43" y1="303.60" x2="561.43" y2="303.60" stroke="#404040" stroke-width="0.9"/>
<text x="559.93" y="351.00" font-size="11.4" text-anchor="middle" fill="#141414" stroke="#141414" stroke-width="0.180">1250</text>
<rect x="588.87" y="302.50" width="10.9" height="28.70" fill="#878787" stroke="#404040" stroke-width="1"/>
<line x1="594.47" y1="300.50" x2="594.47" y2="304.50" stroke="#404040" stroke-width="0.9"/>
<line x1="592.97" y1="300.50" x2="595.97" y2="300.50" stroke="#404040" stroke-width="0.9"/>
<line x1="592.97" y1="304.50" x2="595.97" y2="304.50" stroke="#404040" stroke-width="0.9"/>
<text x="594.47" y="351.00" font-size="11.4" text-anchor="middle" fill="#141414" stroke="#141414" stroke-width="0.180">1500</text>
<rect x="623.41" y="304.10" width="10.9" height="27.10" fill="#878787" stroke="#404040" stroke-width="1"/>
<line x1="629.01" y1="302.00" x2="629.01" y2="306.50" stroke="#404040" stroke-width="0.9"/>
<line x1="627.51" y1="302.00" x2="630.51" y2="302.00" stroke="#404040" stroke-width="0.9"/>
<line x1="627.51" y1="306.50" x2="630.51" y2="306.50" stroke="#404040" stroke-width="0.9"/>
<text x="629.01" y="351.00" font-size="11.4" text-anchor="middle" fill="#141414" stroke="#141414" stroke-width="0.180">1750</text>
<rect x="657.95" y="307.00" width="10.9" height="24.20" fill="#878787" stroke="#404040" stroke-width="1"/>
<line x1="663.55" y1="305.00" x2="663.55" y2="309.00" stroke="#404040" stroke-width="0.9"/>
<line x1="662.05" y1="305.00" x2="665.05" y2="305.00" stroke="#404040" stroke-width="0.9"/>
<line x1="662.05" y1="309.00" x2="665.05" y2="309.00" stroke="#404040" stroke-width="0.9"/>
<text x="663.55" y="351.00" font-size="11.4" text-anchor="middle" fill="#141414" stroke="#141414" stroke-width="0.180">2000</text>
<line x1="422.00" y1="220.10" x2="456.90" y2="220.10" stroke="#8c8c8c" stroke-width="1.3"/>
<circle cx="439.2" cy="216.8" r="1.5" fill="#1a1a1a"/>
<line x1="491.10" y1="214.60" x2="525.10" y2="214.60" stroke="#8c8c8c" stroke-width="1.3"/>
<circle cx="507.5" cy="210.7" r="1.5" fill="#1a1a1a"/>
<text x="501.9" y="368.3" font-size="11.4" fill="#141414" textLength="80.6" lengthAdjust="spacingAndGlyphs">Pressure <tspan font-style="italic">P</tspan> [bar]</text>
<text transform="translate(361.9,263.6) rotate(-90)" x="0" y="0" font-size="11.9" fill="#141414" text-anchor="middle" textLength="129.6" lengthAdjust="spacingAndGlyphs">Derived count rate [kcps]</text>
<line x1="60.55" y1="515.25" x2="663" y2="515.25" stroke="#666" stroke-width="1.8" stroke-dasharray="1.8,5.026"/>
<line x1="60.55" y1="478.90" x2="663" y2="478.90" stroke="#666" stroke-width="1.8" stroke-dasharray="1.8,5.026"/>
<line x1="60.55" y1="442.55" x2="663" y2="442.55" stroke="#666" stroke-width="1.8" stroke-dasharray="1.8,5.026"/>
<line x1="60.55" y1="406.20" x2="663" y2="406.20" stroke="#666" stroke-width="1.8" stroke-dasharray="1.8,5.026"/>
<line x1="54.50" y1="406.20" x2="54.50" y2="553.40" stroke="#1a1a1a" stroke-width="1.5"/>
<line x1="51.80" y1="551.60" x2="57.20" y2="551.60" stroke="#1a1a1a" stroke-width="1.2"/>
<text x="45.40" y="557.10" font-size="12.8" text-anchor="end" font-weight="bold" fill="#000" stroke="#000" stroke-width="0.108">0</text>
<line x1="51.80" y1="533.43" x2="57.20" y2="533.43" stroke="#1a1a1a" stroke-width="1.2"/>
<line x1="51.80" y1="515.25" x2="57.20" y2="515.25" stroke="#1a1a1a" stroke-width="1.2"/>
<text x="45.40" y="520.75" font-size="12.8" text-anchor="end" font-weight="bold" fill="#000" stroke="#000" stroke-width="0.108">10</text>
<line x1="51.80" y1="497.08" x2="57.20" y2="497.08" stroke="#1a1a1a" stroke-width="1.2"/>
<line x1="51.80" y1="478.90" x2="57.20" y2="478.90" stroke="#1a1a1a" stroke-width="1.2"/>
<text x="45.40" y="484.40" font-size="12.8" text-anchor="end" font-weight="bold" fill="#000" stroke="#000" stroke-width="0.108">20</text>
<line x1="51.80" y1="460.73" x2="57.20" y2="460.73" stroke="#1a1a1a" stroke-width="1.2"/>
<line x1="51.80" y1="442.55" x2="57.20" y2="442.55" stroke="#1a1a1a" stroke-width="1.2"/>
<text x="45.40" y="448.05" font-size="12.8" text-anchor="end" font-weight="bold" fill="#000" stroke="#000" stroke-width="0.108">30</text>
<line x1="51.80" y1="424.38" x2="57.20" y2="424.38" stroke="#1a1a1a" stroke-width="1.2"/>
<line x1="51.80" y1="406.20" x2="57.20" y2="406.20" stroke="#1a1a1a" stroke-width="1.2"/>
<text x="45.40" y="411.70" font-size="12.8" text-anchor="end" font-weight="bold" fill="#000" stroke="#000" stroke-width="0.108">40</text>
<line x1="54.50" y1="551.60" x2="663.10" y2="551.60" stroke="#1a1a1a" stroke-width="1.2"/>
<line x1="54.50" y1="549.80" x2="54.50" y2="553.40" stroke="#1a1a1a" stroke-width="1.1"/>
<line x1="146.10" y1="549.80" x2="146.10" y2="553.40" stroke="#1a1a1a" stroke-width="1.1"/>
<line x1="199.69" y1="549.80" x2="199.69" y2="553.40" stroke="#1a1a1a" stroke-width="1.1"/>
<line x1="237.71" y1="549.80" x2="237.71" y2="553.40" stroke="#1a1a1a" stroke-width="1.1"/>
<line x1="267.20" y1="549.80" x2="267.20" y2="553.40" stroke="#1a1a1a" stroke-width="1.1"/>
<line x1="291.29" y1="549.80" x2="291.29" y2="553.40" stroke="#1a1a1a" stroke-width="1.1"/>
<line x1="311.66" y1="549.80" x2="311.66" y2="553.40" stroke="#1a1a1a" stroke-width="1.1"/>
<line x1="329.31" y1="549.80" x2="329.31" y2="553.40" stroke="#1a1a1a" stroke-width="1.1"/>
<line x1="344.88" y1="549.80" x2="344.88" y2="553.40" stroke="#1a1a1a" stroke-width="1.1"/>
<line x1="358.80" y1="549.80" x2="358.80" y2="553.40" stroke="#1a1a1a" stroke-width="1.1"/>
<line x1="450.40" y1="549.80" x2="450.40" y2="553.40" stroke="#1a1a1a" stroke-width="1.1"/>
<line x1="503.99" y1="549.80" x2="503.99" y2="553.40" stroke="#1a1a1a" stroke-width="1.1"/>
<line x1="542.01" y1="549.80" x2="542.01" y2="553.40" stroke="#1a1a1a" stroke-width="1.1"/>
<line x1="571.50" y1="549.80" x2="571.50" y2="553.40" stroke="#1a1a1a" stroke-width="1.1"/>
<line x1="595.59" y1="549.80" x2="595.59" y2="553.40" stroke="#1a1a1a" stroke-width="1.1"/>
<line x1="615.96" y1="549.80" x2="615.96" y2="553.40" stroke="#1a1a1a" stroke-width="1.1"/>
<line x1="633.61" y1="549.80" x2="633.61" y2="553.40" stroke="#1a1a1a" stroke-width="1.1"/>
<line x1="649.18" y1="549.80" x2="649.18" y2="553.40" stroke="#1a1a1a" stroke-width="1.1"/>
<line x1="663.10" y1="549.60" x2="663.10" y2="553.60" stroke="#1a1a1a" stroke-width="1.1"/>
<text x="54.35" y="573.80" font-size="12.6" text-anchor="middle" font-weight="bold" fill="#000" stroke="#000" stroke-width="0.108">10</text>
<text x="359.00" y="573.70" font-size="12.6" text-anchor="middle" font-weight="bold" fill="#000" stroke="#000" stroke-width="0.108">100</text>
<text x="661.90" y="573.80" font-size="12.6" text-anchor="middle" font-weight="bold" fill="#000" stroke="#000" stroke-width="0.108">1000</text>
<text x="334.30" y="594.40" font-size="12.6" font-weight="bold" textLength="54.00" lengthAdjust="spacingAndGlyphs" fill="#000" stroke="#000" stroke-width="0.108">Size [nm]</text>
<text transform="translate(23.6,477.1) rotate(-90)" x="0" y="0" font-size="13.2" font-weight="bold" fill="#000" text-anchor="middle" textLength="71" lengthAdjust="spacingAndGlyphs">Number [%]</text>
<polyline points="54.50,551.60 385.51,551.60 404.96,524.70 424.34,466.54 443.69,430.92 463.12,460.73 482.51,515.98 501.90,544.33 521.30,551.60 663.10,551.60" fill="none" stroke="#ff3333" stroke-width="1.15" stroke-linejoin="round"/>
<polyline points="54.50,551.60 288.55,551.60 307.95,547.97 327.35,529.06 346.74,486.17 366.13,467.27 385.51,476.72 404.96,499.26 424.34,521.43 443.69,535.24 463.12,542.51 482.51,546.51 501.90,548.69 521.30,550.15 540.71,551.05 560.10,551.60 663.10,551.60" fill="none" stroke="#33ee33" stroke-width="1.15" stroke-linejoin="round"/>
<polyline points="54.50,551.60 249.76,551.60 269.16,550.69 288.55,526.88 307.95,483.26 327.35,460.73 346.74,473.08 366.13,499.62 385.51,522.16 404.96,534.15 424.34,541.79 443.69,547.60 463.12,549.42 472.81,549.78 482.51,551.60 663.10,551.60" fill="none" stroke="#3344ff" stroke-width="1.15" stroke-linejoin="round"/>
<polyline points="54.50,551.60 230.37,551.60 249.76,546.15 269.16,523.25 288.55,484.72 307.95,465.45 327.35,478.90 346.74,502.16 366.13,522.16 385.51,536.33 404.96,544.33 424.34,547.97 443.69,549.60 453.41,549.96 463.12,551.60 663.10,551.60" fill="none" stroke="#404040" stroke-width="1.15" stroke-linejoin="round"/>
<polyline points="54.50,551.60 191.56,551.60 210.96,539.24 230.37,502.89 249.76,470.18 255.58,468.36 269.16,468.36 288.55,487.62 307.95,511.62 327.35,531.24 346.74,541.06 366.13,545.42 385.51,548.33 404.96,549.78 424.34,550.51 443.69,551.60 663.10,551.60" fill="none" stroke="#ff3388" stroke-width="1.15" stroke-linejoin="round"/>
<polyline points="54.50,551.60 172.17,551.60 191.56,532.33 210.96,489.44 230.37,459.63 249.76,469.81 269.16,494.17 288.55,521.79 307.95,537.06 327.35,544.69 346.74,547.24 366.13,549.42 385.51,551.60 663.10,551.60" fill="none" stroke="#ff33ff" stroke-width="1.15" stroke-linejoin="round"/>
<polyline points="54.50,551.60 114.03,551.60 133.42,525.43 152.80,466.90 172.17,441.82 191.56,467.27 210.96,510.89 230.37,535.61 249.76,546.15 269.16,549.96 288.55,551.60 663.10,551.60" fill="none" stroke="#a03c3c" stroke-width="1.15" stroke-linejoin="round"/>
<polyline points="54.50,551.60 94.55,551.60 114.03,530.88 133.42,484.72 152.80,459.63 172.17,472.36 191.56,499.62 210.96,522.52 230.37,535.97 249.76,544.69 269.16,547.97 288.55,550.15 307.95,551.05 327.35,551.60 663.10,551.60" fill="none" stroke="#3c9c3c" stroke-width="1.15" stroke-linejoin="round"/>
<text x="131.10" y="455.90" font-size="12.6" font-weight="bold" textLength="28.60" lengthAdjust="spacingAndGlyphs" fill="#008000" stroke="#008000" stroke-width="0.108">2000</text>
<text x="160.60" y="437.80" font-size="12.6" font-weight="bold" textLength="28.30" lengthAdjust="spacingAndGlyphs" fill="#800000" stroke="#800000" stroke-width="0.108">1750</text>
<text x="218.40" y="455.20" font-size="12.6" font-weight="bold" textLength="28.40" lengthAdjust="spacingAndGlyphs" fill="#ff00ff" stroke="#ff00ff" stroke-width="0.108">1500</text>
<text x="248.50" y="465.70" font-size="12.6" font-weight="bold" textLength="28.70" lengthAdjust="spacingAndGlyphs" fill="#ff0080" stroke="#ff0080" stroke-width="0.108">1250</text>
<text x="286.00" y="463.60" font-size="12.6" font-weight="bold" textLength="27.60" lengthAdjust="spacingAndGlyphs" fill="#1a1a1a" stroke="#1a1a1a" stroke-width="0.108">1000</text>
<text x="319.40" y="455.40" font-size="12.6" font-weight="bold" textLength="20.70" lengthAdjust="spacingAndGlyphs" fill="#0000ff" stroke="#0000ff" stroke-width="0.108">750</text>
<text x="356.50" y="463.10" font-size="12.6" font-weight="bold" textLength="21.50" lengthAdjust="spacingAndGlyphs" fill="#00e000" stroke="#00e000" stroke-width="0.108">500</text>
<text x="433.60" y="426.70" font-size="12.6" font-weight="bold" textLength="21.50" lengthAdjust="spacingAndGlyphs" fill="#ff0000" stroke="#ff0000" stroke-width="0.108">250</text>
</svg>
</body></html>
